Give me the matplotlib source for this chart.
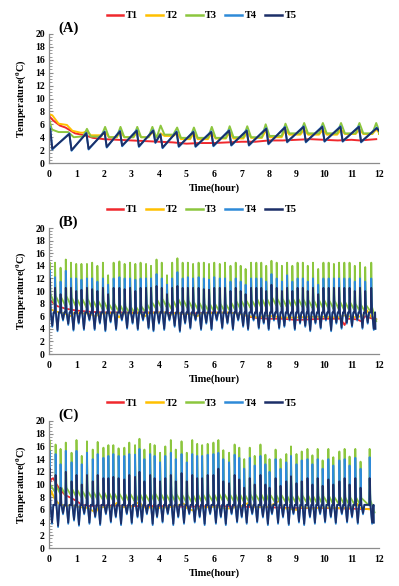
import matplotlib
matplotlib.use('Agg')
import matplotlib.pyplot as plt
from matplotlib.lines import Line2D
from matplotlib.ticker import MultipleLocator

plt.rcParams['font.family'] = ['Liberation Serif', 'DejaVu Serif']
plt.rcParams['font.weight'] = 'bold'
plt.rcParams['mathtext.fontset'] = 'custom'
plt.rcParams['mathtext.rm'] = 'Liberation Serif:bold'
plt.rcParams['mathtext.it'] = 'Liberation Serif:bold'
plt.rcParams['mathtext.bf'] = 'Liberation Serif:bold'

series_names = ['T1', 'T2', 'T3', 'T4', 'T5']
panel_labels = ['(A)', '(B)', '(C)']
x_ticks = [0, 1, 2, 3, 4, 5, 6, 7, 8, 9, 10, 11, 12]
y_ticks = [0, 2, 4, 6, 8, 10, 12, 14, 16, 18, 20]

# ---------------- Panel A ----------------
A_T1_t = [0, 0.15, 0.4, 0.6, 0.95, 1.3, 1.6, 2.0, 2.5, 3.0, 3.5, 4.0, 4.5, 5.0, 5.5, 6.0, 6.5, 7.0,
          7.5, 8.0, 8.5, 9.0, 9.5, 10.0, 10.5, 11.0, 11.3, 11.9]
A_T1_v = [7.3, 6.6, 5.8, 5.5, 4.6, 4.3, 3.9, 3.7, 3.6, 3.5, 3.4, 3.3, 3.2, 3.0, 3.1, 3.1, 3.2, 3.3,
          3.3, 3.5, 3.5, 3.6, 3.7, 3.6, 3.5, 3.6, 3.5, 3.7]

# sawtooth (T4/T5): peak times, peak values, values just after the drop
A_saw_t = [0.04, 0.74, 1.36, 2.02, 2.58, 3.19, 3.79, 4.05, 4.64, 5.25, 5.90, 6.55, 7.19, 7.90,
           8.58, 9.26, 9.94, 10.60, 11.27, 11.92]
A_T5_peak = [5.3, 4.5, 4.6, 4.8, 4.9, 5.0, 5.0, 4.4, 4.8, 4.8, 4.8, 5.0, 5.0, 5.3, 5.5, 5.6, 5.6,
             5.6, 5.6, 5.4]
A_T5_low = [2.2, 2.0, 2.2, 2.5, 2.7, 2.6, 3.2, 2.4, 2.6, 2.6, 2.7, 2.8, 2.8, 3.0, 3.3, 3.3, 3.4,
            3.4, 3.3, 5.0]
A_T4_peak = [5.6, 4.6, 4.7, 4.9, 5.0, 5.1, 5.1, 4.5, 4.9, 4.9, 4.9, 5.1, 5.1, 5.4, 5.6, 5.7, 5.7,
             5.7, 5.7, 5.5]
A_T4_low = [2.1, 1.9, 2.1, 2.4, 2.6, 2.5, 3.1, 2.3, 2.5, 2.5, 2.6, 2.7, 2.7, 2.9, 3.2, 3.2, 3.3,
            3.3, 3.2, 5.0]
A_T5_start = 4.5
A_T4_start = 4.8

# T2/T3: early decay then humps
A_T3_head_t = [0, 0.1, 0.35, 0.7, 0.9, 1.15]
A_T3_head_v = [7.0, 5.2, 4.8, 4.8, 4.0, 4.1]
A_T2_head_t = [0, 0.12, 0.35, 0.65, 0.85, 1.15]
A_T2_head_v = [7.6, 7.4, 6.1, 5.9, 5.0, 4.7]
A_hump_t = [1.38, 2.04, 2.60, 3.21, 3.76, 4.06, 4.66, 5.27, 5.92, 6.57, 7.21, 7.88, 8.60, 9.28,
            9.96, 10.62, 11.29, 11.90]
A_T3_peak = [5.3, 5.6, 5.6, 5.6, 5.6, 5.8, 5.5, 5.5, 5.6, 5.7, 5.7, 6.0, 6.1, 6.2, 6.2, 6.2, 6.2, 6.2]
A_T3_low = [4.1, 4.0, 4.0, 4.0, 4.0, 4.4, 3.9, 3.9, 3.9, 4.0, 4.0, 4.2, 4.6, 4.6, 4.6, 4.6, 4.6, 4.6]
A_T2_peak = [4.9, 4.8, 4.8, 4.8, 4.8, 4.6, 4.6, 4.7, 4.7, 4.8, 4.8, 5.0, 5.2, 5.2, 5.2, 5.2, 5.2, 5.2]
A_T2_low = [4.3, 4.0, 4.0, 4.0, 4.0, 4.2, 3.7, 3.7, 3.8, 3.8, 3.9, 4.0, 4.4, 4.4, 4.4, 4.5, 4.5, 4.5]

# ---------------- Panel B ----------------
B_T1_t = [0, 0.1, 0.3, 0.6, 1.0, 1.5, 2.0, 3.0, 4.0, 5.0, 6.0, 6.8, 7.1, 7.3, 7.6, 8.0, 8.5, 9.0,
          9.5, 10.0, 10.6, 10.75, 10.85, 11.2, 11.35, 11.5, 11.7, 11.9]
B_T1_v = [8.6, 8.3, 7.6, 7.2, 6.9, 6.7, 6.6, 6.6, 6.6, 6.4, 6.6, 6.5, 6.2, 5.9, 5.7, 5.6, 5.6, 5.4,
          5.5, 5.6, 5.6, 4.6, 5.6, 5.5, 5.2, 6.0, 5.7, 5.5]
B_T2_t = [0, 0.2, 0.5, 0.8, 0.9, 1.5, 1.7, 1.8, 2.4, 2.55, 2.65, 3.3, 3.5, 3.6, 4.2, 4.4, 4.6, 5.2,
          5.4, 5.5, 6.0, 6.5, 7.0, 7.3, 7.6, 7.9, 8.1, 8.5, 9.0, 9.5, 10.0, 10.5, 10.8, 11.0, 11.4,
          11.55, 11.7, 11.9]
B_T2_v = [7.3, 6.8, 6.5, 6.0, 6.5, 6.4, 5.9, 6.4, 6.5, 5.8, 6.4, 6.5, 6.0, 6.5, 6.6, 6.2, 6.5, 6.3,
          6.0, 6.4, 6.5, 6.6, 6.3, 6.0, 5.8, 6.1, 6.0, 5.8, 5.8, 5.9, 5.9, 5.8, 6.2, 5.8, 6.0,
          7.0, 6.0, 5.5]
B_spike_t = [0.03, 0.22, 0.42, 0.61, 0.80, 0.99, 1.18, 1.38, 1.57, 1.76, 1.96, 2.15, 2.35, 2.56,
             2.75, 2.95, 3.14, 3.33, 3.53, 3.71, 3.91, 4.10, 4.29, 4.48, 4.67, 4.86, 5.05, 5.24,
             5.44, 5.63, 5.82, 6.01, 6.21, 6.40, 6.60, 6.79, 6.97, 7.15, 7.35, 7.54, 7.72, 7.90,
             8.09, 8.28, 8.47, 8.66, 8.85, 9.04, 9.23, 9.41, 9.60, 9.79, 9.98, 10.17, 10.36,
             10.55, 10.74, 10.93, 11.12, 11.31, 11.50, 11.72]
B_T3_peak = [14.5, 14.5, 13.7, 15.0, 14.5, 14.3, 14.3, 14.3, 14.5, 14.0, 14.5, 12.5, 14.5, 14.7,
             14.3, 14.5, 14.3, 14.5, 14.3, 14.0, 15.0, 14.5, 12.5, 14.5, 15.2, 14.5, 14.5, 14.3,
             14.5, 14.5, 14.3, 14.5, 14.3, 14.5, 14.0, 14.5, 14.0, 13.5, 14.5, 14.5, 14.5, 14.0,
             14.8, 14.5, 14.0, 14.5, 14.0, 14.5, 14.5, 14.0, 14.5, 13.5, 14.5, 14.5, 14.3, 14.5,
             14.5, 14.5, 14.0, 14.5, 13.8, 14.5]
B_T3_post = [9.5, 9.2, 9.0, 9.2, 9.0, 8.8, 8.8, 8.8, 8.6, 8.5, 8.5, 8.0, 8.0, 7.8, 7.6, 7.5, 7.5,
             7.6, 8.0, 8.3, 8.6, 8.8, 8.3, 8.6, 8.8, 8.6, 8.5, 8.3, 8.2, 8.0, 8.0, 8.0, 8.0, 8.0,
             8.2, 8.4, 8.5, 8.5, 8.6, 8.8, 8.8, 8.8, 9.0, 8.8, 8.8, 8.8, 8.8, 8.8, 8.7, 8.6, 8.6,
             8.6, 8.6, 8.5, 8.5, 8.4, 8.3, 8.2, 8.0, 7.9, 7.8, 7.5]
B_T3_pre = [8.0, 7.8, 7.7, 7.8, 7.6, 7.5, 7.4, 7.4, 7.3, 7.2, 7.1, 6.8, 6.7, 6.6, 6.5, 6.5, 6.5,
            6.6, 6.9, 7.2, 7.4, 7.5, 7.1, 7.3, 7.5, 7.3, 7.2, 7.0, 6.9, 6.8, 6.8, 6.8, 6.8, 6.8,
            7.0, 7.2, 7.3, 7.3, 7.4, 7.5, 7.5, 7.5, 7.7, 7.5, 7.5, 7.5, 7.5, 7.5, 7.4, 7.3, 7.3,
            7.3, 7.3, 7.2, 7.2, 7.1, 7.0, 7.0, 6.9, 6.8, 6.7, 5.2]
B_T4_peak = [13.3, 12.2, 11.5, 13.2, 12.0, 12.0, 11.8, 12.0, 12.0, 11.5, 12.0, 11.0, 12.0, 12.2,
             12.0, 12.0, 11.8, 12.0, 12.0, 12.0, 12.7, 12.0, 11.0, 12.0, 13.0, 12.0, 12.2, 12.0,
             12.2, 12.0, 11.8, 12.2, 12.0, 12.0, 11.5, 12.0, 11.5, 11.0, 12.0, 12.0, 12.0, 11.5,
             12.7, 12.0, 11.5, 12.5, 11.5, 12.0, 12.0, 11.5, 12.0, 11.0, 12.0, 12.0, 12.0, 12.0,
             12.0, 12.0, 11.5, 12.0, 11.5, 12.0]
B_T5_peak = [12.0, 10.5, 9.5, 10.5, 10.5, 10.0, 10.2, 10.5, 10.3, 10.0, 10.5, 9.5, 10.5, 10.5,
             10.3, 10.5, 10.0, 10.5, 10.5, 10.5, 10.8, 10.5, 9.5, 10.5, 10.8, 10.5, 10.5, 10.5,
             10.5, 10.3, 10.2, 10.5, 10.5, 10.5, 10.0, 10.5, 10.0, 9.5, 10.5, 10.5, 10.5, 10.0,
             11.0, 10.5, 10.0, 10.5, 10.0, 10.5, 10.5, 10.0, 10.5, 9.5, 10.5, 10.5, 10.5, 10.5,
             10.5, 10.5, 10.0, 10.5, 10.0, 10.5]
B_T5_dip = [4.5, 3.8, 5.5, 4.8, 3.9, 5.0, 4.0, 5.5, 4.0, 5.0, 3.8, 5.2, 4.0, 5.5, 4.2, 5.0, 4.0,
            5.5, 4.2, 3.8, 5.0, 4.0, 5.5, 4.5, 3.7, 5.0, 4.2, 5.5, 4.0, 5.0, 4.0, 5.5, 4.2, 5.0,
            4.0, 5.5, 4.5, 4.0, 5.5, 4.2, 5.0, 4.0, 5.5, 4.2, 4.5, 5.5, 4.0, 5.0, 4.5, 3.8, 5.0,
            4.2, 5.5, 3.8, 5.0, 4.2, 5.0, 4.5, 5.5, 4.2, 5.0, 4.0]
B_T4_dip = [4.3, 3.6, 5.3, 4.6, 3.7, 4.8, 3.8, 5.3, 3.8, 4.8, 3.6, 5.0, 3.8, 5.3, 4.0, 4.8, 3.8,
            5.3, 4.0, 3.6, 4.8, 3.8, 5.3, 4.3, 3.5, 4.8, 4.0, 5.3, 3.8, 4.8, 3.8, 5.3, 4.0, 4.8,
            3.8, 5.3, 4.3, 3.8, 5.3, 4.0, 4.8, 3.8, 5.3, 4.0, 4.3, 5.3, 3.8, 4.8, 4.3, 3.6, 4.8,
            4.0, 5.3, 3.6, 4.8, 4.0, 4.8, 4.3, 5.3, 4.0, 4.8, 3.8]
B_base = 6.6
B_end = 4.0

# ---------------- Panel C ----------------
C_T1_t = [0, 0.08, 0.15, 0.25, 0.4, 0.6, 0.8, 1.0, 1.2, 1.5, 2.0, 3.0, 4.0, 5.0, 6.0, 7.0, 8.0,
          9.0, 10.0, 11.0, 11.8]
C_T1_v = [9.8, 10.8, 11.0, 10.2, 9.2, 8.3, 7.9, 7.4, 6.8, 6.6, 6.7, 6.6, 6.6, 6.5, 6.6, 6.5, 6.4,
          6.3, 6.3, 6.2, 6.1]
C_T2_t = [0, 0.08, 0.2, 0.35, 0.6, 0.8, 1.0, 1.4, 1.7, 1.8, 2.3, 2.5, 2.6, 3.0, 3.3, 3.4, 4.0,
          4.5, 4.9, 5.0, 5.3, 5.4, 6.0, 6.5, 7.0, 7.3, 7.4, 8.0, 8.4, 8.5, 9.0, 9.2, 9.6, 10.0,
          10.6, 11.0, 11.2, 11.3, 11.8]
C_T2_v = [6.8, 9.0, 7.8, 7.0, 6.6, 6.8, 6.5, 6.3, 5.6, 6.4, 6.5, 7.2, 6.4, 6.5, 7.3, 6.4, 6.3,
          6.5, 7.0, 6.3, 5.8, 6.3, 6.5, 6.2, 6.6, 7.2, 6.4, 6.5, 7.5, 6.3, 6.0, 6.5, 6.2, 6.4,
          6.3, 6.4, 7.0, 6.3, 6.0]
C_spike_t = [0.02, 0.24, 0.42, 0.61, 0.82, 1.00, 1.19, 1.38, 1.59, 1.77, 1.98, 2.16, 2.34, 2.53,
             2.74, 2.92, 3.13, 3.29, 3.47, 3.68, 3.84, 4.04, 4.23, 4.43, 4.61, 4.82, 5.01, 5.21,
             5.39, 5.57, 5.77, 5.98, 6.16, 6.34, 6.55, 6.75, 6.92, 7.10, 7.30, 7.48, 7.69, 7.87,
             8.02, 8.24, 8.42, 8.63, 8.80, 9.00, 9.19, 9.40, 9.58, 9.77, 9.95, 10.16, 10.34,
             10.56, 10.75, 10.93, 11.14, 11.33, 11.66]
C_T3_peak = [17.0, 16.3, 15.6, 16.6, 15.0, 17.0, 14.5, 16.8, 15.5, 16.7, 15.8, 16.2, 16.2, 15.7,
             15.8, 16.6, 16.2, 17.2, 15.5, 16.4, 16.2, 15.0, 16.0, 17.0, 15.5, 16.8, 15.0, 17.0,
             16.4, 16.2, 16.4, 16.6, 17.0, 15.4, 15.0, 16.3, 15.8, 14.0, 15.8, 14.5, 16.3, 14.7,
             14.0, 15.5, 14.0, 14.8, 16.0, 14.8, 15.2, 15.6, 14.6, 15.6, 13.8, 15.6, 14.3, 15.2,
             15.6, 14.4, 15.6, 13.6, 15.6]
C_T3_post = [10.0, 9.8, 9.6, 9.5, 9.3, 9.2, 9.0, 9.0, 8.9, 8.8, 8.8, 8.7, 8.7, 8.6, 8.6, 8.6,
             8.5, 8.5, 8.5, 8.6, 8.6, 8.6, 8.5, 8.5, 8.5, 8.4, 8.4, 8.4, 8.5, 8.5, 8.5, 8.5, 8.6,
             8.6, 8.5, 8.5, 8.5, 8.4, 8.5, 8.5, 8.5, 8.5, 8.4, 8.4, 8.4, 8.3, 8.3, 8.3, 8.3, 8.3,
             8.2, 8.2, 8.2, 8.2, 8.1, 8.1, 8.0, 8.0, 8.0, 7.9, 7.6]
C_T3_pre = [8.8, 8.6, 8.4, 8.3, 8.1, 8.0, 7.8, 7.8, 7.7, 7.6, 7.6, 7.5, 7.5, 7.4, 7.4, 7.4, 7.3,
            7.3, 7.3, 7.4, 7.4, 7.4, 7.3, 7.3, 7.3, 7.2, 7.2, 7.2, 7.3, 7.3, 7.3, 7.3, 7.4, 7.4,
            7.3, 7.3, 7.3, 7.2, 7.3, 7.3, 7.3, 7.3, 7.2, 7.2, 7.2, 7.1, 7.1, 7.1, 7.1, 7.1, 7.0,
            7.0, 7.0, 7.0, 6.9, 6.9, 6.8, 6.8, 6.8, 6.7, 5.6]
C_T4_peak = [15.3, 14.8, 13.2, 15.3, 13.5, 15.3, 13.2, 15.0, 14.0, 14.8, 14.2, 14.5, 14.8, 14.5,
             14.5, 14.8, 14.7, 15.6, 14.0, 14.8, 14.5, 13.5, 14.5, 15.0, 14.0, 14.8, 13.5, 14.8,
             14.5, 14.5, 14.7, 14.8, 15.0, 14.0, 13.5, 14.7, 14.2, 12.5, 14.2, 13.0, 14.5, 13.2,
             12.0, 14.0, 12.5, 13.5, 14.5, 13.2, 13.8, 14.0, 13.2, 14.0, 12.5, 14.0, 13.0, 13.8,
             14.0, 13.0, 14.2, 12.5, 14.3]
C_T5_peak = [12.6, 11.5, 9.5, 12.0, 10.5, 11.5, 10.0, 11.5, 10.5, 11.5, 11.0, 11.0, 11.2, 11.0,
             10.8, 11.5, 11.2, 12.0, 10.5, 11.5, 11.0, 10.5, 11.0, 11.5, 10.5, 11.8, 10.5, 11.5,
             11.0, 11.0, 11.5, 11.5, 12.5, 10.5, 10.2, 11.5, 10.8, 9.5, 11.0, 10.0, 11.5, 10.0,
             9.5, 11.0, 9.8, 10.5, 11.3, 10.2, 10.5, 11.0, 10.0, 11.0, 9.8, 10.8, 10.0, 10.5,
             11.0, 10.0, 11.0, 9.5, 11.0]
C_T5_dip = [4.0, 3.5, 5.5, 4.0, 4.5, 3.7, 5.5, 4.0, 5.0, 3.8, 5.5, 4.2, 5.0, 3.8, 5.5, 4.0, 5.0,
            4.2, 5.5, 3.8, 5.0, 4.2, 5.5, 3.8, 5.0, 4.0, 5.5, 4.2, 5.0, 3.8, 5.5, 4.0, 5.0, 3.8,
            5.5, 4.2, 5.0, 4.0, 5.5, 4.2, 5.0, 3.8, 5.5, 4.0, 5.0, 3.8, 5.5, 4.2, 3.8, 5.0, 4.0,
            5.5, 4.2, 5.0, 4.0, 5.5, 4.2, 5.0, 4.0, 5.5, 4.0]
C_T4_dip = [3.8, 3.3, 5.3, 3.8, 4.3, 3.5, 5.3, 3.8, 4.8, 3.6, 5.3, 4.0, 4.8, 3.6, 5.3, 3.8, 4.8,
            4.0, 5.3, 3.6, 4.8, 4.0, 5.3, 3.6, 4.8, 3.8, 5.3, 4.0, 4.8, 3.6, 5.3, 3.8, 4.8, 3.6,
            5.3, 4.0, 4.8, 3.8, 5.3, 4.0, 4.8, 3.6, 5.3, 3.8, 4.8, 3.6, 5.3, 4.0, 3.6, 4.8, 3.8,
            5.3, 4.0, 4.8, 3.8, 5.3, 4.0, 4.8, 3.8, 5.3, 3.8]
C_base = 6.8
C_end = 4.0

colors = ['#F0282D', '#FFC000', '#8CC63E', '#2E8AD8', '#1C2F68']


# ---------------- shape builders ----------------
def sawtooth(start_v, peak_t, peak_v, low_v, drop=0.08):
    t, v = [0.0], [start_v]
    for pt, pv, lv in zip(peak_t, peak_v, low_v):
        t += [pt, pt + drop]
        v += [pv, lv]
    return t, v


def humps(head_t, head_v, peak_t, peak_v, low_v, w=0.14):
    t, v = list(head_t), list(head_v)
    for pt, pv, lv in zip(peak_t, peak_v, low_v):
        t += [pt - w, pt, pt + w]
        v += [v[-1], pv, lv]
    t.append(12.0)
    v.append(v[-1])
    return t, v


def green_spikes(spk_t, peak, post, pre):
    t, v = [0.0], [pre[0]]
    n = min(len(spk_t), len(peak), len(post), len(pre))
    for i in range(n):
        t0 = spk_t[i]
        nxt = spk_t[i + 1] if i + 1 < n else t0 + 0.2
        t += [t0 - 0.012, t0, t0 + 0.025, nxt - 0.02]
        v += [v[-1], peak[i], post[i], pre[i]]
    return t, v


def blue_spikes(spk_t, peak, dip, base, end):
    t, v = [0.0], [base]
    n = min(len(spk_t), len(peak), len(dip))
    for i in range(n):
        t0 = spk_t[i]
        nxt = spk_t[i + 1] if i + 1 < n else t0 + 0.2
        t += [t0 - 0.012, t0, t0 + 0.03, t0 + 0.09, t0 + 0.14, nxt - 0.015]
        v += [base, peak[i], base, dip[i], base, base]
    t[-1] = spk_t[n - 1] + 0.15
    v[-1] = end
    return t, v


panels = [
    {
        'T1': (A_T1_t, A_T1_v),
        'T2': humps(A_T2_head_t, A_T2_head_v, A_hump_t, A_T2_peak, A_T2_low),
        'T3': humps(A_T3_head_t, A_T3_head_v, A_hump_t, A_T3_peak, A_T3_low),
        'T4': sawtooth(A_T4_start, A_saw_t, A_T4_peak, A_T4_low),
        'T5': sawtooth(A_T5_start, A_saw_t, A_T5_peak, A_T5_low),
        'lw': 1.4,
    },
    {
        'T1': (B_T1_t, B_T1_v),
        'T2': (B_T2_t, B_T2_v),
        'T3': green_spikes(B_spike_t, B_T3_peak, B_T3_post, B_T3_pre),
        'T4': blue_spikes(B_spike_t, B_T4_peak, B_T4_dip, B_base, B_end),
        'T5': blue_spikes(B_spike_t, B_T5_peak, B_T5_dip, B_base, B_end),
        'lw': 1.3,
    },
    {
        'T1': (C_T1_t, C_T1_v),
        'T2': (C_T2_t, C_T2_v),
        'T3': green_spikes(C_spike_t, C_T3_peak, C_T3_post, C_T3_pre),
        'T4': blue_spikes(C_spike_t, C_T4_peak, C_T4_dip, C_base, C_end),
        'T5': blue_spikes(C_spike_t, C_T5_peak, C_T5_dip, C_base, C_end),
        'lw': 1.3,
    },
]

fig = plt.figure(figsize=(3.99, 5.86), dpi=100)
axes_rects = [
    [0.1228, 0.7218, 0.827, 0.2202],
    [0.1228, 0.3959, 0.827, 0.2150],
    [0.1228, 0.0648, 0.827, 0.2168],
]
legend_y = [0.973, 0.642, 0.312]
grey = '#8C8C8C'

for k, (rect, pdata) in enumerate(zip(axes_rects, panels)):
    ax = fig.add_axes(rect)
    for name, col in zip(series_names, colors):
        t, v = pdata[name]
        ax.plot(t, v, color=col, lw=pdata['lw'], solid_joinstyle='round')
    ax.set_xlim(0, 12)
    ax.set_ylim(0, 20)
    ax.set_xticks(x_ticks)
    ax.set_yticks(y_ticks)
    ax.yaxis.set_minor_locator(MultipleLocator(0.5))
    for s in ['top', 'right']:
        ax.spines[s].set_visible(False)
    for s in ['left', 'bottom']:
        ax.spines[s].set_color(grey)
        ax.spines[s].set_linewidth(0.9)
    ax.tick_params(axis='y', which='major', direction='in', length=3, color=grey,
                   labelsize=7, pad=3)
    ax.tick_params(axis='y', which='minor', direction='in', length=1.8, color=grey)
    ax.tick_params(axis='x', which='both', length=0, labelsize=7, pad=5)
    for lab in ax.get_xticklabels() + ax.get_yticklabels():
        lab.set_fontweight('bold')
    ax.set_xlabel('Time(hour)', fontsize=7.5, fontweight='bold', labelpad=3)
    ax.set_ylabel(r'Temperature($^{0}$C)', fontsize=7.5, fontweight='bold', labelpad=5)
    ax.text(0.027, 1.045, panel_labels[k], transform=ax.transAxes, fontsize=10.5,
            fontweight='bold', va='center', ha='left')
    handles = [Line2D([0], [0], color=c, lw=1.8) for c in colors]
    fig.legend(handles, series_names, loc='center', bbox_to_anchor=(0.505, legend_y[k]),
               ncol=5, frameon=False, handlelength=1.6, handletextpad=0.25, columnspacing=0.8,
               prop={'family': 'Liberation Serif', 'weight': 'bold', 'size': 7.5})

fig.savefig('out.png', dpi=100)
